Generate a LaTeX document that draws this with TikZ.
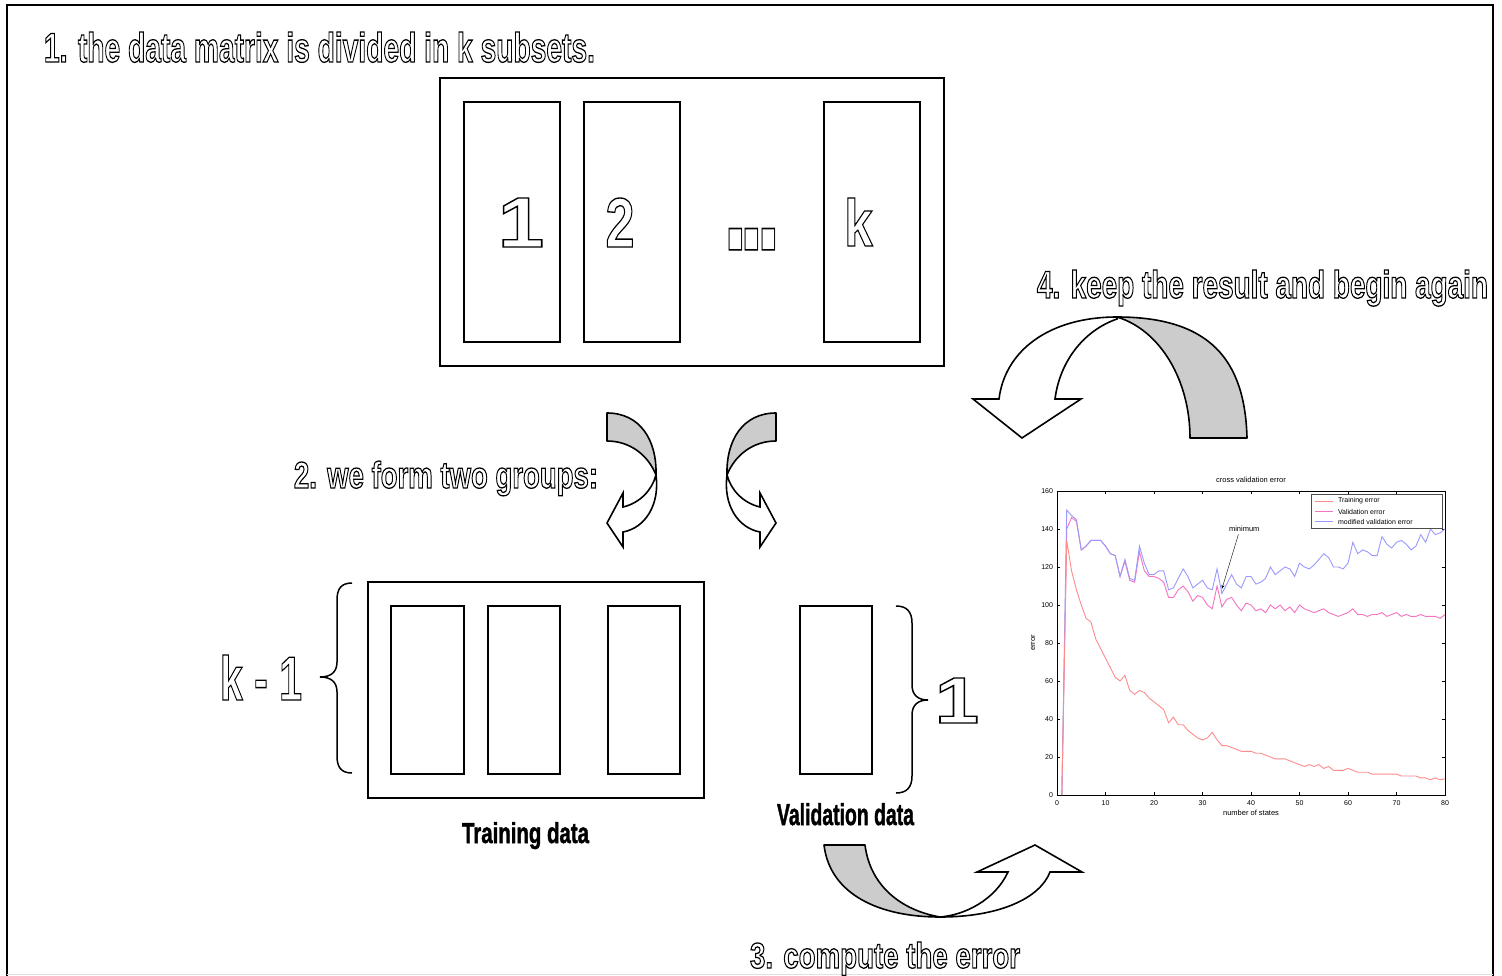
\documentclass[tikz,border=0pt]{standalone}
\usepackage{fontspec}
\setmainfont{Liberation Sans}
\newfontfamily\dejavu{DejaVu Sans}
\usepackage{graphicx}
\usetikzlibrary{arrows.meta}

% outline text: font size, box width, height above baseline, text
\newcommand{\OT}[4]{\resizebox{#2pt}{#3pt}{\fontsize{#1}{#1}\selectfont\bfseries\special{pdf:literal direct 1 Tr 1.3 w}#4\special{pdf:literal direct 0 Tr}}}
% filled + stroked text
\newcommand{\FT}[4]{\resizebox{#2pt}{#3pt}{\fontsize{#1}{#1}\selectfont\bfseries\special{pdf:literal direct 2 Tr 0.5 w}#4\special{pdf:literal direct 0 Tr}}}

\begin{document}
\begin{tikzpicture}[x=1pt,y=-1pt,
  box/.style={draw=black,line width=1.8pt,inner sep=0pt,outer sep=0pt,anchor=north west},
  grayband/.style={draw=black,line width=1.6pt,fill=black!20,line join=round},
  whiteband/.style={draw=black,line width=1.6pt,fill=white,line join=miter},
  lbl/.style={inner sep=0pt,outer sep=0pt},
  brace/.style={draw=black,line width=1.5pt},
  tick/.style={inner sep=0pt,font=\fontsize{7}{7}\selectfont},
  ptxt/.style={inner sep=0pt,font=\fontsize{7.5}{7.5}\selectfont}
]
\useasboundingbox (0,0) rectangle (1502,976);
\fill[white] (0,0) rectangle (1502,976);

% frame
\draw[line width=2.5pt] (7,976) -- (7,5) -- (1493,5) -- (1493,976);
\draw[black!12,line width=1.5pt] (7,974.5) -- (1493,974.5);

% step 1
\node[lbl,anchor=base west] (t1) at (44,62) {\OT{42}{551}{30}{1. the data matrix is divided in k subsets.}};
\node[box,minimum width=504pt,minimum height=288pt] (matrix) at (440,78) {};
\node[box,minimum width=96pt,minimum height=240pt] (s1) at (464,102) {};
\node[box,minimum width=96pt,minimum height=240pt] (s2) at (584,102) {};
\node[box,minimum width=96pt,minimum height=240pt] (sk) at (824,102) {};
\node[lbl,anchor=base] (d1) at (521,247) {\OT{68}{46}{49}{1}};
\node[lbl,anchor=base] (d2) at (620,247) {\OT{68}{29}{49}{2}};
\node[lbl,anchor=base] (dk) at (858.5,246) {\OT{68}{28.5}{48}{k}};
\node[lbl] (dots) at (752,240) {\resizebox*{50pt}{23pt}{\dejavu □□□}};

% step 4
\node[lbl,anchor=base west] (t4) at (1037,298) {\OT{39}{451}{28}{4. keep the result and begin again}};
\path[grayband] (1190,438) -- (1247,438) .. controls (1245,360) and (1210,317) .. (1117,317)
   .. controls (1160,330) and (1190,380) .. (1190,438) -- cycle;
\path[whiteband] (1117,317) .. controls (1050,317) and (1005,350) .. (999,399) -- (973,399)
   -- (1022,438) -- (1081,399) -- (1055,399) .. controls (1060,360) and (1085,330) .. (1117,319) -- cycle;

% step 2
\node[lbl,anchor=base west] (t2) at (294,488) {\OT{38}{304}{27}{2. we form two groups:}};
\path[grayband] (607,413) .. controls (640,413) and (657,440) .. (656,475)
   .. controls (648,455) and (630,441) .. (607,441) -- cycle;
\path[whiteband] (656,475) .. controls (660,505) and (645,528) .. (623,532) -- (623,547) -- (607,523)
   -- (623,493) -- (623,507) .. controls (640,503) and (652,490) .. (656,475) -- cycle;
\begin{scope}[shift={(1383,0)},xscale=-1]
\path[grayband] (607,413) .. controls (640,413) and (657,440) .. (656,475)
   .. controls (648,455) and (630,441) .. (607,441) -- cycle;
\path[whiteband] (656,475) .. controls (660,505) and (645,528) .. (623,532) -- (623,547) -- (607,523)
   -- (623,493) -- (623,507) .. controls (640,503) and (652,490) .. (656,475) -- cycle;
\end{scope}

% groups
\node[box,minimum width=336pt,minimum height=216pt] (train) at (368,582) {};
\node[box,minimum width=73pt,minimum height=168pt] (tr1) at (391,606) {};
\node[box,minimum width=72pt,minimum height=168pt] (tr2) at (488,606) {};
\node[box,minimum width=72pt,minimum height=168pt] (tr3) at (608,606) {};
\node[box,minimum width=72pt,minimum height=168pt] (val) at (800,606) {};
\draw[brace] (352,583) .. controls (341,583) and (337,589) .. (337,600) -- (337,662)
   .. controls (337,672) and (331,677) .. (320,677) .. controls (331,677) and (337,682) .. (337,692)
   -- (337,756) .. controls (337,767) and (341,773) .. (352,773);
\draw[brace] (896,606) .. controls (907,606) and (912,612) .. (912,623) -- (912,685)
   .. controls (912,695) and (918,700) .. (928,700) .. controls (918,700) and (912,705) .. (912,715)
   -- (912,776) .. controls (912,787) and (907,793) .. (896,793);
\node[lbl,anchor=base west] (km1) at (220,700) {\OT{63}{82}{45}{k - 1}};
\node[lbl,anchor=base] (one) at (957,723) {\OT{63}{44}{45}{1}};
\node[lbl,anchor=base west] (trl) at (462,843) {\FT{29}{127}{21}{Training data}};
\node[lbl,anchor=base west] (vall) at (777,825) {\FT{31}{137}{22}{Validation data}};

% step 3
\path[grayband] (824,845) -- (865,845) .. controls (870,885) and (900,910) .. (940,917)
   .. controls (880,917) and (830,895) .. (824,845) -- cycle;
\path[whiteband] (940,917) .. controls (1000,917) and (1040,898) .. (1050,872) -- (1082,872)
   -- (1035,845) -- (977,872) -- (1008,872) .. controls (995,900) and (965,915) .. (940,917) -- cycle;
\node[lbl,anchor=base west] (t3) at (750,968) {\OT{37}{270}{26}{3. compute the error}};

% plot
\begin{scope}[shift={(1057,795)},x=4.85pt,y=1.9pt]
  \draw[line width=0.5pt] (0,0) rectangle (80,160);
  \foreach \i in {0,10,...,80}{
    \draw[line width=0.4pt] (\i,0) -- (\i,1.6) (\i,160) -- (\i,158.4);
    \node[tick,anchor=north] at (\i,-2.6) {\i};}
  \foreach \j in {0,20,...,160}{
    \draw[line width=0.4pt] (0,\j) -- (0.6,\j) (80,\j) -- (79.4,\j);
    \node[tick,anchor=east] at (-0.8,\j) {\j};}
  \node[ptxt] (ptitle) at (40,165.8) {cross validation error};
  \node[ptxt] (pxl) at (40,-9.6) {number of states};
  \node[ptxt,rotate=90] (pyl) at (-4.9,80) {error};
  \draw[magenta!55,line width=0.9pt] plot coordinates {(1,0) (2,140) (3,146) (4,144) (5,129) (6,131) (7,134) (8,134) (9,134) (10,131) (11,127) (12,126) (13,115) (14,123) (15,113) (16,112) (17,128) (18,118) (19,115) (20,115) (21,114) (22,112) (23,104) (24,104) (25,108) (26,110) (27,107) (28,102) (29,105) (30,104) (31,100) (32,98) (33,110) (34,99) (35,103) (36,104) (37,100) (38,97) (39,101) (40,100) (41,97) (42,98) (43,96) (44,100) (45,98) (46,100) (47,97) (48,99) (49,96) (50,100) (51,98) (52,97) (53,96) (54,97) (55,98) (56,96) (57,95) (58,94) (59,95) (60,96) (61,98) (62,95) (63,95) (64,94) (65,95) (66,95) (67,96) (68,94) (69,95) (70,96) (71,94) (72,95) (73,94) (74,94) (75,95) (76,94) (77,94) (78,94) (79,93) (80,95)};
  \draw[blue!40,line width=0.9pt] plot coordinates {(1,0) (2,150) (3,147) (4,145) (5,129) (6,131) (7,134) (8,134) (9,134) (10,131) (11,127) (12,126) (13,115) (14,124) (15,114) (16,113) (17,131) (18,122) (19,116) (20,116) (21,118) (22,118) (23,108) (24,109) (25,114) (26,119) (27,115) (28,109) (29,111) (30,113) (31,109) (32,108) (33,119) (34,106) (35,111) (36,116) (37,111) (38,109) (39,115) (40,115) (41,111) (42,112) (43,114) (44,120) (45,116) (46,118) (47,120) (48,119) (49,115) (50,122) (51,120) (52,119) (53,121) (54,124) (55,127) (56,125) (57,120) (58,120) (59,119) (60,122) (61,133) (62,127) (63,129) (64,128) (65,126) (66,126) (67,136) (68,132) (69,130) (70,133) (71,134) (72,132) (73,129) (74,131) (75,137) (76,133) (77,140) (78,137) (79,138) (80,140)};
  \draw[red!45,line width=0.9pt] plot coordinates {(1,0) (2,134) (3,118) (4,108) (5,100) (6,93) (7,91) (8,82) (9,77) (10,72) (11,67) (12,62) (13,60) (14,63) (15,55) (16,53) (17,55) (18,54) (19,51) (20,49) (21,47) (22,45) (23,38) (24,41) (25,37) (26,37) (27,34) (28,32) (29,30) (30,29) (31,30) (32,33) (33,29) (34,26) (35,26) (36,25) (37,24) (38,23) (39,23) (40,23) (41,22) (42,22) (43,21) (44,20) (45,19) (46,19) (47,19) (48,18) (49,17) (50,16) (51,15) (52,16) (53,15) (54,16) (55,14) (56,15) (57,13) (58,13) (59,13) (60,14) (61,13) (62,12) (63,12) (64,12) (65,11) (66,11) (67,11) (68,11) (69,11) (70,11) (71,10) (72,10) (73,10) (74,10) (75,9) (76,9) (77,8) (78,9) (79,8) (80,8.5)};
  % legend
  \node[draw=black!70,line width=0.5pt,fill=white,minimum width=131pt,minimum height=34pt,inner sep=0pt,anchor=north west] (legend) at (52.4,158.5) {};
  \draw[red!45,line width=0.9pt] (53.2,154.7) -- (56.9,154.7);
  \draw[magenta!55,line width=0.9pt] (53.2,149.1) -- (56.9,149.1);
  \draw[blue!40,line width=0.9pt] (53.2,143.8) -- (56.9,143.8);
  \node[ptxt,anchor=west,font=\fontsize{7}{7}\selectfont] (lg1) at (57.9,154.7) {Training error};
  \node[ptxt,anchor=west,font=\fontsize{7}{7}\selectfont] (lg2) at (57.9,149.1) {Validation error};
  \node[ptxt,anchor=west,font=\fontsize{7}{7}\selectfont] (lg3) at (57.9,143.8) {modified validation error};
  \node[ptxt] (minl) at (38.6,140.2) {minimum};
  \coordinate (minpt) at (34,108.5);
  \draw[line width=0.4pt,-{Stealth[length=4pt,width=3pt]}] (minl.south) ++(-1.2,-1.5) -- (minpt);
\end{scope}
\end{tikzpicture}
\end{document}
